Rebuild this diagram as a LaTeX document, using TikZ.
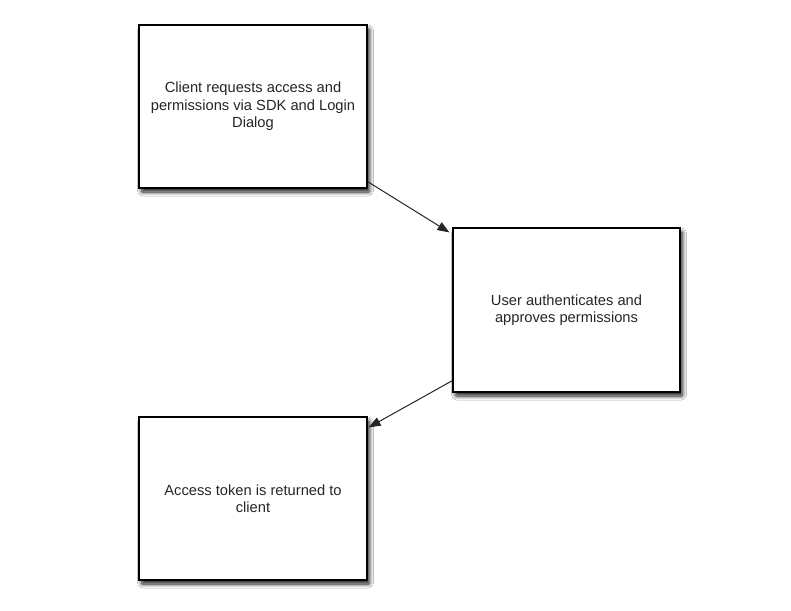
\documentclass[tikz,border=0pt]{standalone}
\usepackage{fontspec}
\setmainfont{Liberation Sans}
\usetikzlibrary{arrows.meta,shadows.blur}
\begin{document}
\begin{tikzpicture}[x=1pt,y=-1pt,
  flowbox/.style={draw=black,line width=1.2pt,fill=white,minimum width=228pt,
    minimum height=163pt,inner sep=0pt,align=center,
    font=\fontsize{14.7}{17.5}\selectfont,text=black!85,
    blur shadow={shadow xshift=2.5pt,shadow yshift=-4pt,shadow blur steps=8,
      shadow blur radius=4pt,shadow blur extra rounding=1pt,shadow opacity=90}},
  flowarrow/.style={draw=black!85,line width=1pt,
    -{Triangle[length=12pt,width=9pt]}}]
  \fill[white] (0,0) rectangle (791,610);
  \useasboundingbox (0,0) rectangle (791,610);

  \node[flowbox] (b1) at (253,106.5)
    {Client requests access and\\permissions via SDK and Login\\Dialog};
  \node[flowbox,minimum height=164pt,minimum width=227pt] (b2) at (566.5,310)
    {User authenticates and\\approves permissions};
  \node[flowbox] (b3) at (253,498.5)
    {Access token is returned to\\client};

  \draw[flowarrow] ([yshift=7pt]b1.south east)
    -- ([xshift=-3pt,yshift=-5pt]b2.north west);
  \draw[flowarrow] ([yshift=12pt]b2.south west)
    -- ([xshift=1pt,yshift=-11pt]b3.north east);
\end{tikzpicture}
\end{document}
